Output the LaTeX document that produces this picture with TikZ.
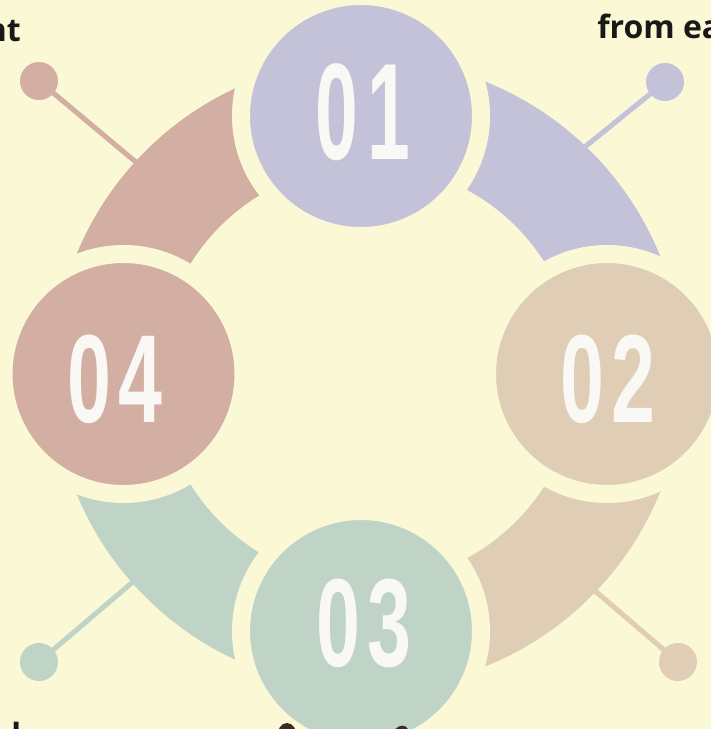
\documentclass[tikz,border=0pt]{standalone}
\usepackage{fontspec}
\newfontfamily\numfont{Liberation Sans}
\newfontfamily\labfont{Open Sans}
\definecolor{bgc}{HTML}{FBF9D5}
\definecolor{lav}{HTML}{C3C2D8}
\definecolor{tan}{HTML}{DFCDB5}
\definecolor{sage}{HTML}{C0D3C7}
\definecolor{pink}{HTML}{D3AEA2}
\definecolor{numwhite}{HTML}{F9F8F4}
\definecolor{darkicon}{HTML}{3B2A20}
\newcommand{\stepnum}[4]{\scalebox{#4}[1]{#1\kern#3#2}}
\tikzset{
  stepcircle/.style={circle, minimum size=180pt, inner sep=0pt, draw=bgc, line width=13.5pt},
  pindot/.style={circle, minimum size=28.5pt, inner sep=0pt},
  pinline/.style={line width=3.8pt},
  numtext/.style={text=numwhite, inner sep=0pt, anchor=base, font=\numfont\bfseries\fontsize{94}{94}\selectfont},
  bignum/.style={numtext, font=\numfont\bfseries\fontsize{103}{103}\selectfont},
  labtext/.style={inner sep=0pt, text=black!90, font=\labfont\bfseries\fontsize{24}{28}\selectfont}
}
\begin{document}
\begin{tikzpicture}[x=0.75pt,y=-0.75pt]
\useasboundingbox (0,0) rectangle (711,729);
\clip (0,0) rectangle (711,729);
\fill[bgc] (0,0) rectangle (711,729);
\coordinate (c) at (368,374);
% pins
\node[pindot, fill=pink] (p4) at (39,81) {};
\node[pindot, fill=lav] (p1) at (665,82) {};
\node[pindot, fill=tan] (p2) at (678,662) {};
\node[pindot, fill=sage] (p3) at (39,662) {};
\coordinate (e4) at (186,204);
\coordinate (e1) at (539,184);
\coordinate (e2) at (545,548);
\coordinate (e3) at (189,534);
\draw[pinline, pink] (p4.center) -- (e4);
\draw[pinline, lav] (p1.center) -- (e1);
\draw[pinline, tan] (p2.center) -- (e2);
\draw[pinline, sage] (p3.center) -- (e3);
% ring segments
\begin{scope}
  \clip (368,374) rectangle (711,0);
  \fill[lav, even odd rule] (c) circle[radius=315] (c) circle[radius=209];
\end{scope}
\begin{scope}
  \clip (368,374) rectangle (711,729);
  \fill[tan, even odd rule] (c) circle[radius=315] (c) circle[radius=209];
\end{scope}
\begin{scope}
  \clip (368,374) rectangle (0,729);
  \fill[sage, even odd rule] (c) circle[radius=315] (c) circle[radius=209];
\end{scope}
\begin{scope}
  \clip (368,374) rectangle (0,0);
  \fill[pink, even odd rule] (c) circle[radius=315] (c) circle[radius=209];
\end{scope}
% step circles
\node[stepcircle, fill=lav] (n1) at (361,116) {};
\node[stepcircle, fill=tan] (n2) at (607,374) {};
\node[stepcircle, fill=sage] (n3) at (361,631) {};
\node[stepcircle, fill=pink] (n4) at (123.5,374) {};
\node[bignum] (t1) at (363,159) {\stepnum{0}{1}{12pt}{0.56}};
\node[numtext] (t2) at (608,422) {\stepnum{0}{2}{8pt}{0.63}};
\node[numtext] (t3) at (364,666) {\stepnum{0}{3}{8pt}{0.63}};
\node[numtext] (t4) at (115,422) {\stepnum{0}{4}{8pt}{0.63}};
% text fragments
\node[labtext, anchor=base east] (l1) at (21,41) {nt};
\node[labtext, anchor=base west] (l2) at (597,38) {from ea};
\node[labtext, anchor=base west] (l3) at (11,746) {l};
% icon fragments at the bottom
\fill[darkicon] (287,737) ellipse[x radius=10, y radius=14];
\fill[darkicon, rotate around={-30:(400,736)}] (400,736) ellipse[x radius=8, y radius=11];
\end{tikzpicture}
\end{document}
